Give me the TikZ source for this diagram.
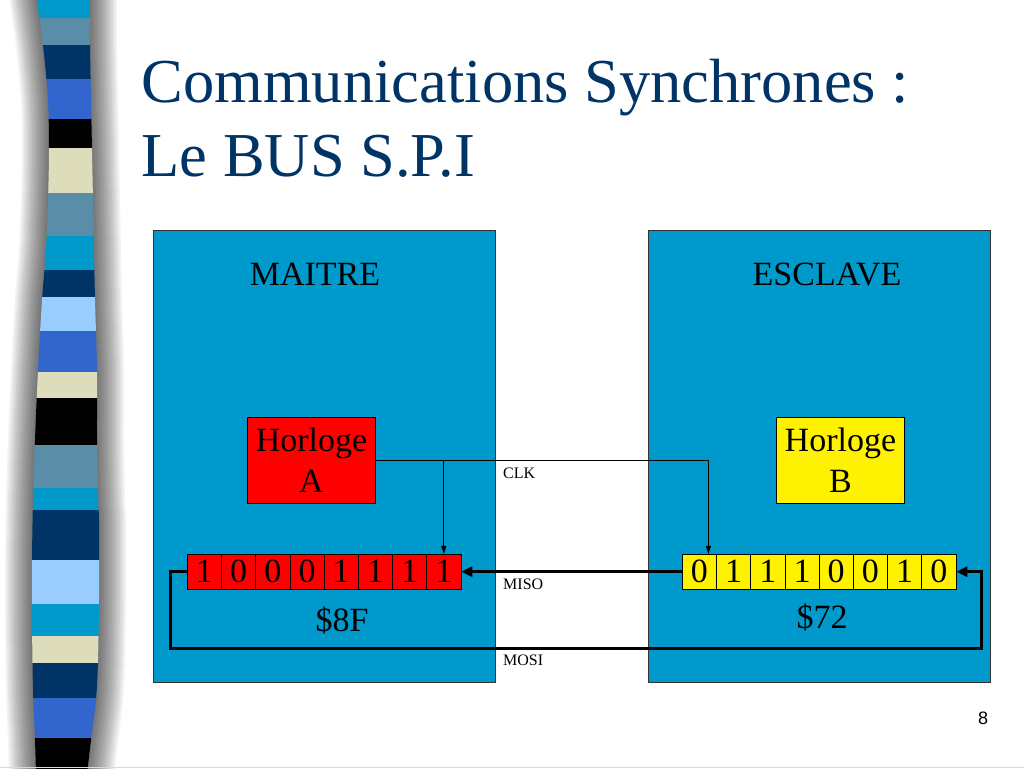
\documentclass[tikz,border=0pt]{standalone}
\usepackage{fontspec}
\setmainfont{Liberation Serif}
\newfontfamily\pagefont{Liberation Sans}
\usetikzlibrary{
  arrows.meta,
  positioning,
}
\definecolor{bleuciel}{RGB}{0,153,204}
\definecolor{bleuacier}{RGB}{90,142,168}
\definecolor{marine}{RGB}{0,51,102}
\definecolor{royal}{RGB}{51,102,204}
\definecolor{pale}{RGB}{153,204,255}
\definecolor{sable}{RGB}{221,221,187}
\tikzset{
  bloc/.style={draw=black!80,fill=bleuciel,line width=0.8pt,minimum width=342pt,minimum height=452pt},
  horloge/.style={draw=black,line width=0.8pt,minimum width=128pt,minimum height=86pt,align=center,font=\fontsize{34}{41}\selectfont},
  bit/.style={draw=black,line width=0.8pt,minimum width=34.2pt,minimum height=34.7pt,inner sep=0pt,font=\fontsize{34}{41}\selectfont},
  grand/.style={anchor=base,inner sep=0pt,font=\fontsize{34}{41}\selectfont},
  etiquette/.style={anchor=base west,inner sep=0pt,font=\fontsize{16}{19}\selectfont},
  fil/.style={line width=0.8pt,-{Triangle[length=8pt,width=5pt]}},
  bus/.style={line width=3.3pt,-{Triangle[length=11pt,width=10pt]}},
}
\def\bande{plot[smooth] coordinates {(36,-6) (43,45) (48,100) (49,150) (48,200) (46,250) (42,300) (38,370) (35,440) (33,500) (32,560) (32,620) (33,690) (35,740) (36,774)}
  -- plot[smooth] coordinates {(87,774) (91,740) (96,700) (98,660) (99,600) (99,520) (98,500) (97,440) (97,370) (95,300) (94,250) (93,200) (92,150) (91,100) (90,45) (90,-6)} -- cycle}

\begin{document}
\begin{tikzpicture}[x=1pt,y=-1pt]
\useasboundingbox[fill=white] (0,0) rectangle (1024,768);
% bande laterale et son ombre
\foreach \w in {2,6,...,54} \draw[line width=\w pt,black,opacity=0.05] \bande;
\begin{scope}
\clip \bande;
\foreach \ya/\yb/\c in {-6/18/bleuciel,18/45/bleuacier,45/79/marine,79/119/royal,119/148/black,148/193/sable,
  193/236/bleuacier,236/270/bleuciel,270/297/marine,297/331/pale,331/372/royal,372/398/sable,398/445/black,
  445/488/bleuacier,488/510/bleuciel,510/560/marine,560/604/pale,604/636/bleuciel,636/663/sable,663/698/marine,
  698/738/royal,738/774/black}
  \fill[\c] (20,\ya) rectangle (110,\yb);
\end{scope}
\draw[gray!30,line width=1pt] (0,767.5) -- (1024,767.5);

\node[anchor=base west,inner sep=0pt,text=marine,font=\fontsize{62.5}{74}\selectfont] (titre) at (141.5,102) {Communications Synchrones :};
\node[anchor=base west,inner sep=0pt,text=marine,font=\fontsize{62.5}{74}\selectfont] (soustitre) at (141.5,176) {Le BUS S.P.I};

\node[bloc] (maitre) at (324,456) {};
\node[bloc] (esclave) at (819,456) {};
\node[grand] (tmaitre) at (315,285) {MAITRE};
\node[grand] (tesclave) at (827,285) {ESCLAVE};

\node[horloge,fill=red] (hA) at (311.5,460.5) {Horloge\\A};
\node[horloge,fill=yellow] (hB) at (840.4,460.5) {Horloge\\B};

\foreach \v [count=\i] in {1,0,0,0,1,1,1,1}
  \node[bit,fill=red] (a\i) at (187.3+34.2*\i-17.1,571.7) {\v};
\foreach \v [count=\i] in {0,1,1,1,0,0,1,0}
  \node[bit,fill=yellow] (b\i) at (682.3+34.2*\i-17.1,571.7) {\v};
\node[grand] (valA) at (342,631.7) {\$8F};
\node[grand] (valB) at (822,628.3) {\$72};

% liaisons
\draw[fil] (hA.east) -| ([xshift=9pt]b1.north);
\draw[fil] (hA.east -| a8) -- (a8.north);
\draw[bus] (b1.west) -- (a8.east);
\coordinate (mosiG) at (170.7,648.3);
\coordinate (mosiD) at (981.7,648.3);
\draw[bus] (a1.west) -| (mosiG) -- (mosiD) |- (b8.east);

\node[etiquette] (clk) at (503,478) {CLK};
\node[etiquette] (miso) at (503,589) {MISO};
\node[etiquette] (mosi) at (503,665.7) {MOSI};

\node[font=\pagefont\fontsize{18}{20}\selectfont] (numero) at (983,718) {8};
\end{tikzpicture}
\end{document}
